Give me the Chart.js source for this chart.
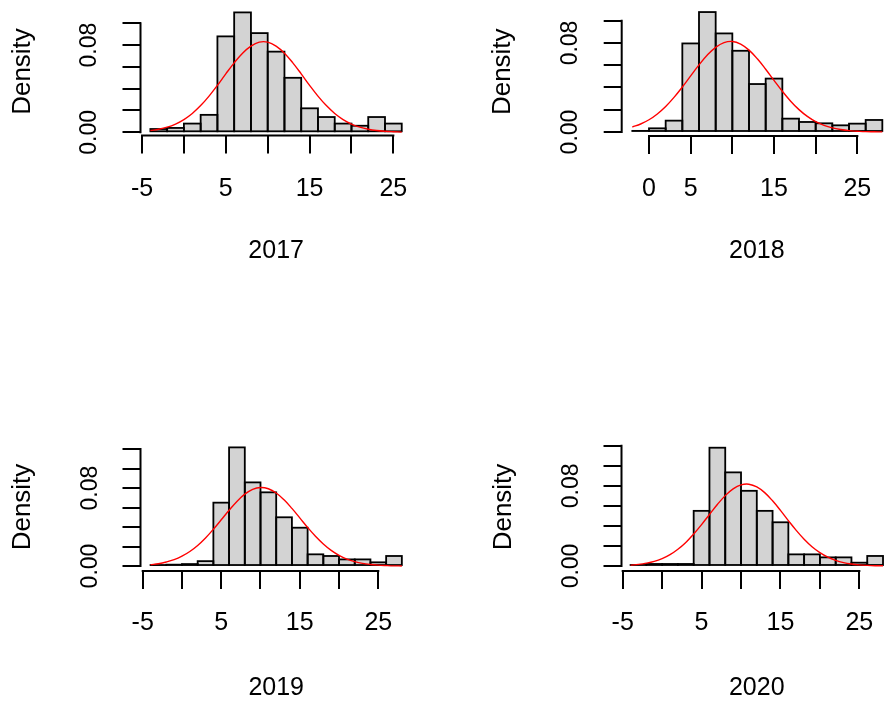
<!DOCTYPE html>
<html>
<head>
<meta charset="utf-8">
<script src="https://cdn.jsdelivr.net/npm/chart.js@4.4.1/dist/chart.umd.min.js"></script>
<style>
html, body { margin: 0; padding: 0; background: #ffffff; width: 892px; height: 704px; overflow: hidden; position: relative; }
canvas { position: absolute; }
</style>
</head>
<body>
<canvas id="c2017"></canvas>
<canvas id="c2018"></canvas>
<canvas id="c2019"></canvas>
<canvas id="c2020"></canvas>
<script>
// ---------------- data ----------------
const years = ['2017', '2018', '2019', '2020'];

const breaks2017  = [-4, -2, 0, 2, 4, 6, 8, 10, 12, 14, 16, 18, 20, 22, 24, 26];
const density2017 = [0.003, 0.004, 0.008, 0.016, 0.088, 0.110, 0.091, 0.074, 0.050, 0.022, 0.014, 0.008, 0.006, 0.014, 0.008];

const breaks2018  = [-2, 0, 2, 4, 6, 8, 10, 12, 14, 16, 18, 20, 22, 24, 26, 28];
const density2018 = [0.001, 0.0033, 0.0102, 0.0796, 0.1078, 0.0886, 0.073, 0.0431, 0.048, 0.012, 0.009, 0.0078, 0.006, 0.0075, 0.0108];

const breaks2019  = [-4, -2, 0, 2, 4, 6, 8, 10, 12, 14, 16, 18, 20, 22, 24, 26, 28];
const density2019 = [0.001, 0.0014, 0.002, 0.005, 0.065, 0.1217, 0.0858, 0.0756, 0.050, 0.0393, 0.012, 0.0103, 0.0068, 0.0068, 0.0038, 0.0103];

const breaks2020  = [-4, -2, 0, 2, 4, 6, 8, 10, 12, 14, 16, 18, 20, 22, 24, 26, 28];
const density2020 = [0.001, 0.002, 0.002, 0.002, 0.055, 0.118, 0.0934, 0.075, 0.055, 0.0436, 0.0116, 0.0116, 0.0086, 0.0086, 0.0033, 0.010];

// red normal-density curves
const normalX2017 = [-4,-3,-2,-1,0,1,2,3,4,5,6,7,8,9,10,11,12,13,14,15,16,17,18,19,20,21,22,23,24,25,26];
const normalY2017 = [0.0016,0.0028,0.0047,0.0076,0.0117,0.0173,0.0245,0.0332,0.0431,0.0536,0.0637,0.0726,0.0791,0.0827,0.0827,0.0791,0.0726,0.0637,0.0536,0.0431,0.0332,0.0245,0.0173,0.0117,0.0076,0.0047,0.0028,0.0016,0.0009,0.0005,0.0002];

const normalX2018 = [-2,-1,0,1,2,3,4,5,6,7,8,9,10,11,12,13,14,15,16,17,18,19,20,21,22,23,24,25,26,27,28];
const normalY2018 = [0.0045,0.0072,0.0110,0.0162,0.0229,0.0311,0.0404,0.0504,0.0603,0.0692,0.0761,0.0803,0.0814,0.0790,0.0736,0.0658,0.0564,0.0464,0.0366,0.0277,0.0201,0.0140,0.0093,0.0060,0.0037,0.0022,0.0012,0.0007,0.0003,0.0002,0.0001];

const normalX2019 = [-4,-3,-2,-1,0,1,2,3,4,5,6,7,8,9,10,11,12,13,14,15,16,17,18,19,20,21,22,23,24,25,26,27,28];
const normalY2019 = [0.0014,0.0024,0.0041,0.0065,0.0101,0.0149,0.0211,0.0288,0.0377,0.0474,0.0572,0.0663,0.0737,0.0786,0.0806,0.0793,0.0749,0.0679,0.0591,0.0494,0.0396,0.0305,0.0226,0.0160,0.0109,0.0071,0.0045,0.0027,0.0016,0.0009,0.0005,0.0002,0.0001];

const normalX2020 = [-4,-3,-2,-1,0,1,2,3,4,5,6,7,8,9,10,11,12,13,14,15,16,17,18,19,20,21,22,23,24,25,26,27,28];
const normalY2020 = [0.0009,0.0016,0.0028,0.0046,0.0074,0.0113,0.0167,0.0235,0.0319,0.0413,0.0514,0.0613,0.0702,0.0769,0.0809,0.0816,0.0789,0.0732,0.0650,0.0555,0.0453,0.0355,0.0267,0.0192,0.0133,0.0088,0.0056,0.0034,0.0020,0.0011,0.0006,0.0003,0.0002];

// axis ticks and which tick labels are printed
const xTicksWide   = [-5, 0, 5, 10, 15, 20, 25];
const xTicks2018   = [0, 5, 10, 15, 20, 25];
const xLabelsWide  = [-5, 5, 15, 25];
const xLabels2018  = [0, 5, 15, 25];
const yTicksTop    = [0, 0.02, 0.04, 0.06, 0.08, 0.10];
const yTicksBottom = [0, 0.02, 0.04, 0.06, 0.08, 0.10, 0.12];
const yLabelsShown = [0, 0.08];
const yAxisTitle   = 'Density';

// ---------------- style / layout ----------------
const FONT = '"Liberation Sans", Arial, Helvetica, sans-serif';
const TICK_LEN = 18;
const LW = 2;
const LH = 1.2;
const SZ = { xtick: 25, ytick: 23, xtitle: 25, ytitle: 26 };

const panels = [
  { id: 'c2017', title: years[0], breaks: breaks2017, dens: density2017, nx: normalX2017, ny: normalY2017,
    xTicks: xTicksWide, xLabels: xLabelsWide, yTicks: yTicksTop,
    box: { left: 0, top: 0, w: 446 }, area: { l: 140.5, r: 411.8, t: 7.5, b: 135.5 },
    xr: [-5.18, 27.2], yr: [-0.00294, 0.1145], xLabelCY: 189, titleCY: 251.5, yTitleCX: 23, yLabelCX: 89.7 },
  { id: 'c2018', title: years[1], breaks: breaks2018, dens: density2018, nx: normalX2018, ny: normalY2018,
    xTicks: xTicks2018, xLabels: xLabels2018, yTicks: yTicksTop,
    box: { left: 446, top: 0, w: 446 }, area: { l: 621.7, r: 892, t: 7.5, b: 136 },
    xr: [-3.276, 29.16], yr: [-0.0036, 0.1119], xLabelCY: 189, titleCY: 251.5, yTitleCX: 502.5, yLabelCX: 571 },
  { id: 'c2019', title: years[2], breaks: breaks2019, dens: density2019, nx: normalX2019, ny: normalY2019,
    xTicks: xTicksWide, xLabels: xLabelsWide, yTicks: yTicksBottom,
    box: { left: 0, top: 436, w: 446 }, area: { l: 140.5, r: 411.9, t: 443, b: 571 },
    xr: [-5.28, 29.28], yr: [-0.0051, 0.1262], xLabelCY: 623.3, titleCY: 688.3, yTitleCX: 22.5, yLabelCX: 90.8 },
  { id: 'c2020', title: years[3], breaks: breaks2020, dens: density2020, nx: normalX2020, ny: normalY2020,
    xTicks: xTicksWide, xLabels: xLabelsWide, yTicks: yTicksBottom,
    box: { left: 446, top: 436, w: 446 }, area: { l: 621.5, r: 892, t: 443, b: 571 },
    xr: [-5.15, 29.14], yr: [-0.005, 0.1227], xLabelCY: 623.3, titleCY: 688.3, yTitleCX: 504, yLabelCX: 571.7 }
];

const measureCtx = document.createElement('canvas').getContext('2d');
function textWidth(s, size) {
  measureCtx.font = 'normal ' + size + 'px ' + FONT;
  return measureCtx.measureText(s).width;
}

const rStyle = {
  id: 'rStyle',
  afterDatasetDraw(chart, args) {
    if (args.meta.type !== 'bar') return;
    const ctx = chart.ctx;
    ctx.save();
    ctx.strokeStyle = '#000';
    ctx.lineWidth = LW * 0.9;
    args.meta.data.forEach(el => {
      const p = el.getProps(['x', 'y', 'base', 'width'], true);
      ctx.strokeRect(p.x - p.width / 2, p.y, p.width, p.base - p.y);
    });
    ctx.restore();
  },
  afterDraw(chart) {
    const ctx = chart.ctx, a = chart.chartArea, x = chart.scales.x, y = chart.scales.y;
    const xt = x.ticks, yt = y.ticks;
    ctx.save();
    ctx.strokeStyle = '#000';
    ctx.lineWidth = LW;
    ctx.beginPath();
    ctx.moveTo(x.getPixelForValue(xt[0].value) - LW / 2, a.bottom);
    ctx.lineTo(x.getPixelForValue(xt[xt.length - 1].value) + LW / 2, a.bottom);
    ctx.moveTo(a.left, y.getPixelForValue(yt[0].value) + LW / 2);
    ctx.lineTo(a.left, y.getPixelForValue(yt[yt.length - 1].value) - LW / 2);
    ctx.stroke();
    ctx.restore();
  }
};

function build(p) {
  const el = document.getElementById(p.id);
  const w = p.box.w;
  const titleLH = SZ.xtitle * LH;
  const h = Math.ceil(p.titleCY - p.box.top + titleLH / 2 + 1);
  el.width = w; el.height = h;
  el.style.left = p.box.left + 'px';
  el.style.top = p.box.top + 'px';
  el.style.width = w + 'px';
  el.style.height = h + 'px';

  const aL = p.area.l - p.box.left, aR = p.area.r - p.box.left;
  const aT = p.area.t - p.box.top, aB = p.area.b - p.box.top;
  const padR = Math.max(0, w - aR);
  const xAxisH = h - aB;
  const titlePadB = Math.max(0, h - (p.titleCY - p.box.top) - titleLH / 2);
  const xTickPad = (p.xLabelCY - p.box.top) - aB - TICK_LEN - SZ.xtick * LH / 2;
  const yLabelStrs = p.yTicks.map(v => yLabelsShown.includes(v) ? v.toFixed(2) : '');
  const widest = Math.max(...yLabelStrs.map(s => textWidth(s, SZ.ytick)));
  const yTickPad = aL - TICK_LEN - widest / 2 - (p.yLabelCX - p.box.left);
  const yTitlePadT = (p.yTitleCX - p.box.left) - SZ.ytitle * LH / 2;

  const bars = p.dens.map((d, i) => ({ x: (p.breaks[i] + p.breaks[i + 1]) / 2, y: d }));
  const curve = p.nx.map((x, i) => ({ x: x, y: p.ny[i] }));

  new Chart(el, {
    type: 'bar',
    data: {
      datasets: [
        { type: 'line', data: curve, borderColor: '#ff0000', borderWidth: 1.4, pointRadius: 0,
          fill: false, tension: 0.4 },
        { type: 'bar', data: bars, backgroundColor: '#d3d3d3', borderWidth: 0,
          barPercentage: 1, categoryPercentage: 1 }
      ]
    },
    options: {
      responsive: false,
      animation: false,
      devicePixelRatio: 1,
      layout: { padding: { left: 0, top: aT, right: padR, bottom: 0 } },
      plugins: { legend: { display: false }, tooltip: { enabled: false } },
      scales: {
        x: {
          type: 'linear', min: p.xr[0], max: p.xr[1], offset: false, bounds: 'data',
          afterBuildTicks: s => { s.ticks = p.xTicks.map(v => ({ value: v })); },
          afterFit: s => { s.height = xAxisH; s.paddingLeft = 0; s.paddingRight = 0; },
          grid: { display: true, drawOnChartArea: false, drawTicks: true, tickLength: TICK_LEN,
                  color: '#000', lineWidth: LW, offset: false },
          border: { display: false },
          ticks: { autoSkip: false, minRotation: 0, maxRotation: 0, padding: xTickPad, color: '#000',
                   font: { family: FONT, size: SZ.xtick, lineHeight: LH },
                   callback: v => p.xLabels.includes(v) ? String(v) : '' },
          title: { display: true, text: p.title, color: '#000',
                   font: { family: FONT, size: SZ.xtitle, lineHeight: LH },
                   padding: { top: 0, bottom: titlePadB } }
        },
        y: {
          type: 'linear', min: p.yr[0], max: p.yr[1], bounds: 'data', beginAtZero: false,
          afterBuildTicks: s => { s.ticks = p.yTicks.map(v => ({ value: v })); },
          afterFit: s => { s.width = aL; s.paddingTop = 0; s.paddingBottom = 0; },
          grid: { display: true, drawOnChartArea: false, drawTicks: true, tickLength: TICK_LEN,
                  color: '#000', lineWidth: LW },
          border: { display: false },
          ticks: { autoSkip: false, minRotation: 90, maxRotation: 90, crossAlign: 'center',
                   padding: yTickPad, color: '#000',
                   font: { family: FONT, size: SZ.ytick, lineHeight: LH },
                   callback: v => yLabelsShown.includes(v) ? v.toFixed(2) : '' },
          title: { display: true, text: yAxisTitle, color: '#000',
                   font: { family: FONT, size: SZ.ytitle, lineHeight: LH },
                   padding: { top: yTitlePadT, bottom: 0 } }
        }
      }
    },
    plugins: [rStyle]
  });
}

panels.forEach(build);
</script>
</body>
</html>
